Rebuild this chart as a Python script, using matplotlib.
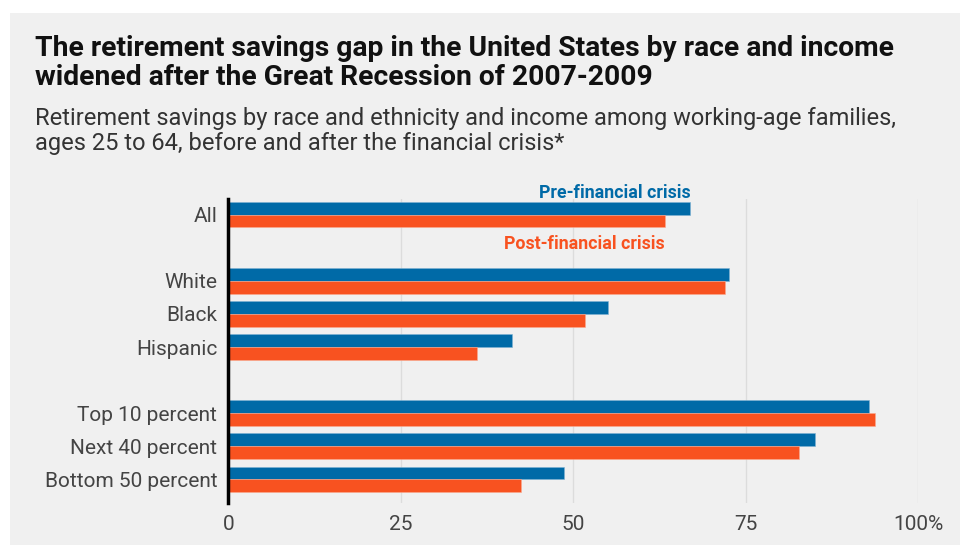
import matplotlib.pyplot as plt
from matplotlib.patches import Rectangle
import numpy as np

# Datos
categorias = ['All', 'White', 'Black', 'Hispanic', 'Top 10 percent', 'Next 40 percent', 'Bottom 50 percent']
posiciones = [0, 2, 3, 4, 6, 7, 8]
pre_crisis = [67.0, 72.6, 55.0, 41.1, 92.9, 85.0, 48.7]
post_crisis = [63.3, 72.0, 51.7, 36.1, 93.7, 82.7, 42.5]
ticks_x = [0, 25, 50, 75, 100]
ticks_x_labels = ['0', '25', '50', '75', '100%']

azul = '#006aa7'
naranja = '#f85220'
fondo = '#f0f0f0'

plt.rcParams['font.family'] = ['Roboto', 'DejaVu Sans']

fig = plt.figure(figsize=(9.6, 5.45), dpi=100)
fig.patch.set_facecolor('white')
# fondo gris
fig.add_artist(Rectangle((10 / 960, 0), 1, 1 - 13 / 545, transform=fig.transFigure,
                         facecolor=fondo, edgecolor='none', zorder=0))

ax = fig.add_axes([0.2379, 0.0771, 0.9563 - 0.2379, 0.6349 - 0.0771])
ax.set_facecolor(fondo)

y = np.array(posiciones)
h = 0.39
ax.barh(y - h / 2, pre_crisis, height=h, color=azul, edgecolor='#7fb3d3', linewidth=0.4, zorder=3)
ax.barh(y + h / 2, post_crisis, height=h, color=naranja, edgecolor='#fba98f', linewidth=0.4, zorder=3)

ax.set_xlim(0, 100)
ax.set_ylim(8.71, -0.47)
ax.set_yticks(posiciones)
ax.set_yticklabels(categorias, fontsize=15, color='#444444')
ax.set_xticks(ticks_x)
ax.set_xticklabels(ticks_x_labels, fontsize=15, color='#444444')
ax.tick_params(axis='both', length=0, pad=8)
ax.tick_params(axis='x', pad=9)
ax.grid(axis='x', color='#dcdcdc', linewidth=1, zorder=0)

for lado in ['top', 'right', 'bottom']:
    ax.spines[lado].set_visible(False)
ax.spines['left'].set_color('black')
ax.spines['left'].set_linewidth(2.5)
ax.spines['left'].set_zorder(5)

# etiquetas de series
ax.text(pre_crisis[0], -0.39, 'Pre-financial crisis', color=azul, fontsize=12.8, fontweight='bold',
        ha='right', va='bottom')
ax.text(post_crisis[0], 0.62, 'Post-financial crisis', color=naranja, fontsize=12.8, fontweight='bold',
        ha='right', va='top')

# titulos
fig.text(35 / 960, 1 - 63 / 545,
         'The retirement savings gap in the United States by race and income\nwidened after the Great Recession of 2007-2009',
         fontsize=20.3, fontweight='bold', color='#111111', ha='left', va='center', linespacing=1.12)
fig.text(35 / 960, 1 - 131 / 545,
         'Retirement savings by race and ethnicity and income among working-age families,\nages 25 to 64, before and after the financial crisis*',
         fontsize=17, color='#333333', ha='left', va='center', linespacing=1.12)

fig.savefig('out.png', dpi=100, facecolor=fig.get_facecolor())
